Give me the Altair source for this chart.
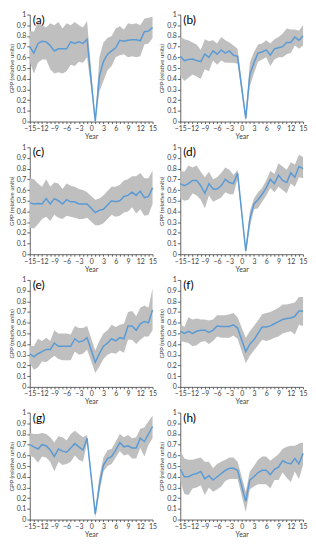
import altair as alt
import pandas as pd

years = [y for y in range(-15, 16) if y != 0]
panels = ["(a)", "(b)", "(c)", "(d)", "(e)", "(f)", "(g)", "(h)"]

mean_a = [0.70,0.64,0.73,0.75,0.745,0.71,0.66,0.68,0.68,0.68,0.745,0.73,0.745,0.73,0.77,
          0.0,0.42,0.56,0.63,0.66,0.69,0.76,0.75,0.76,0.765,0.765,0.755,0.84,0.845,0.88]
hi_a = [0.85,0.84,0.93,0.90,0.88,0.92,0.90,0.93,0.87,0.92,0.90,0.93,0.90,0.88,0.94,
        0.02,0.60,0.74,0.78,0.80,0.87,0.89,0.86,0.92,0.91,0.92,0.90,0.96,0.97,0.98]
lo_a = [0.56,0.45,0.55,0.58,0.58,0.49,0.45,0.46,0.45,0.47,0.53,0.52,0.56,0.55,0.60,
        0.0,0.28,0.38,0.48,0.52,0.60,0.62,0.63,0.60,0.61,0.60,0.61,0.72,0.73,0.78]

mean_b = [0.61,0.57,0.58,0.585,0.57,0.56,0.63,0.60,0.66,0.63,0.67,0.64,0.66,0.62,0.61,
          0.03,0.44,0.55,0.64,0.65,0.67,0.62,0.68,0.69,0.70,0.74,0.74,0.79,0.76,0.80]
hi_b = [0.79,0.77,0.76,0.74,0.72,0.67,0.77,0.75,0.76,0.73,0.79,0.76,0.74,0.71,0.68,
        0.06,0.55,0.65,0.72,0.73,0.76,0.73,0.77,0.79,0.82,0.87,0.86,0.86,0.85,0.90]
lo_b = [0.43,0.38,0.41,0.44,0.42,0.40,0.49,0.47,0.57,0.53,0.57,0.55,0.55,0.55,0.54,
        0.0,0.33,0.45,0.56,0.58,0.60,0.52,0.58,0.60,0.60,0.63,0.64,0.71,0.68,0.71]

mean_c = [0.48,0.47,0.475,0.47,0.52,0.47,0.52,0.50,0.47,0.51,0.49,0.49,0.47,0.47,0.47,
          0.39,0.41,0.42,0.46,0.50,0.49,0.50,0.54,0.55,0.58,0.55,0.59,0.53,0.54,0.62]
hi_c = [0.71,0.70,0.66,0.63,0.70,0.63,0.67,0.66,0.61,0.66,0.64,0.63,0.61,0.60,0.58,
        0.51,0.52,0.55,0.59,0.63,0.63,0.65,0.69,0.70,0.73,0.73,0.76,0.71,0.71,0.78]
lo_c = [0.25,0.24,0.28,0.33,0.35,0.31,0.37,0.34,0.33,0.36,0.35,0.34,0.33,0.33,0.34,
        0.27,0.27,0.29,0.33,0.37,0.35,0.36,0.39,0.40,0.44,0.38,0.42,0.36,0.37,0.47]

mean_d = [0.66,0.64,0.66,0.69,0.69,0.64,0.57,0.66,0.61,0.61,0.64,0.70,0.67,0.66,0.76,
          0.03,0.33,0.47,0.51,0.56,0.62,0.70,0.66,0.74,0.69,0.67,0.76,0.72,0.82,0.80]
hi_d = [0.78,0.77,0.83,0.81,0.83,0.77,0.72,0.77,0.70,0.72,0.76,0.81,0.79,0.74,0.79,
        0.05,0.40,0.52,0.58,0.62,0.69,0.78,0.75,0.85,0.82,0.79,0.86,0.84,0.93,0.91]
lo_d = [0.52,0.50,0.51,0.57,0.55,0.51,0.43,0.55,0.49,0.51,0.53,0.58,0.56,0.56,0.70,
        0.0,0.25,0.42,0.43,0.49,0.55,0.62,0.58,0.63,0.60,0.57,0.66,0.63,0.72,0.71]

mean_e = [0.31,0.28,0.31,0.33,0.35,0.35,0.41,0.38,0.38,0.38,0.38,0.45,0.42,0.43,0.46,
          0.23,0.31,0.38,0.41,0.45,0.43,0.46,0.45,0.57,0.57,0.53,0.59,0.61,0.60,0.72]
hi_e = [0.39,0.38,0.45,0.43,0.46,0.43,0.53,0.50,0.50,0.50,0.49,0.57,0.55,0.55,0.57,
        0.34,0.43,0.50,0.53,0.58,0.56,0.58,0.59,0.70,0.71,0.66,0.74,0.76,0.74,0.92]
lo_e = [0.22,0.16,0.18,0.24,0.23,0.26,0.29,0.26,0.25,0.25,0.25,0.33,0.30,0.31,0.35,
        0.13,0.19,0.26,0.30,0.32,0.31,0.34,0.32,0.44,0.44,0.40,0.44,0.47,0.47,0.53]

mean_f = [0.52,0.50,0.52,0.50,0.52,0.53,0.53,0.51,0.53,0.57,0.565,0.565,0.565,0.58,0.55,
          0.33,0.40,0.44,0.50,0.56,0.56,0.57,0.59,0.61,0.63,0.64,0.645,0.66,0.71,0.71]
hi_f = [0.59,0.56,0.65,0.63,0.64,0.63,0.63,0.62,0.63,0.67,0.67,0.67,0.68,0.69,0.65,
        0.46,0.52,0.57,0.62,0.68,0.69,0.70,0.72,0.74,0.77,0.77,0.78,0.79,0.84,0.84]
lo_f = [0.43,0.42,0.41,0.38,0.39,0.42,0.43,0.40,0.43,0.47,0.46,0.46,0.46,0.48,0.45,
        0.22,0.29,0.34,0.39,0.44,0.43,0.44,0.46,0.47,0.50,0.51,0.52,0.49,0.58,0.57]

mean_g = [0.70,0.68,0.66,0.70,0.69,0.65,0.59,0.66,0.64,0.63,0.67,0.71,0.68,0.65,0.76,
          0.05,0.32,0.51,0.57,0.59,0.65,0.72,0.68,0.69,0.67,0.67,0.76,0.73,0.80,0.87]
hi_g = [0.81,0.80,0.80,0.81,0.80,0.77,0.72,0.78,0.77,0.74,0.80,0.83,0.80,0.77,0.79,
        0.07,0.40,0.58,0.65,0.66,0.73,0.80,0.77,0.79,0.76,0.77,0.85,0.86,0.92,0.97]
lo_g = [0.60,0.58,0.53,0.59,0.58,0.54,0.45,0.54,0.51,0.52,0.54,0.60,0.56,0.54,0.72,
        0.02,0.25,0.45,0.50,0.52,0.58,0.64,0.60,0.61,0.57,0.57,0.67,0.59,0.70,0.76]

mean_h = [0.47,0.40,0.40,0.42,0.43,0.45,0.38,0.41,0.37,0.40,0.43,0.46,0.48,0.48,0.46,
          0.17,0.37,0.40,0.44,0.46,0.46,0.42,0.47,0.49,0.55,0.53,0.52,0.57,0.52,0.62]
hi_h = [0.64,0.57,0.56,0.56,0.57,0.58,0.54,0.54,0.48,0.52,0.54,0.56,0.58,0.58,0.54,
        0.26,0.45,0.50,0.56,0.59,0.59,0.55,0.58,0.61,0.66,0.68,0.69,0.69,0.71,0.72]
lo_h = [0.36,0.24,0.23,0.29,0.30,0.32,0.23,0.30,0.26,0.28,0.31,0.36,0.38,0.38,0.38,
        0.07,0.28,0.31,0.33,0.33,0.33,0.29,0.37,0.37,0.44,0.39,0.35,0.45,0.38,0.51]

series = {
    "(a)": (mean_a, lo_a, hi_a), "(b)": (mean_b, lo_b, hi_b),
    "(c)": (mean_c, lo_c, hi_c), "(d)": (mean_d, lo_d, hi_d),
    "(e)": (mean_e, lo_e, hi_e), "(f)": (mean_f, lo_f, hi_f),
    "(g)": (mean_g, lo_g, hi_g), "(h)": (mean_h, lo_h, hi_h),
}

y_ticks = [0, 0.1, 0.2, 0.3, 0.4, 0.5, 0.6, 0.7, 0.8, 0.9, 1]
x_ticks = list(range(-15, 16))

FONT = "Lato"
W, H = 124, 108

x_axis = alt.Axis(values=x_ticks, format="d",
                  labelExpr="datum.value % 3 == 0 ? datum.label : ''",
                  title="Year", tickSize=2, labelPadding=1,
                  titlePadding=1, labelFlush=False, labelOverlap=False)
y_axis = alt.Axis(values=y_ticks, format=".1~f",
                  title="GPP (relative units)", tickSize=3,
                  labelPadding=1, titlePadding=2,
                  labelOverlap=False, labelFlush=False)
x_scale = alt.Scale(domain=[-15, 15], nice=False)
y_scale = alt.Scale(domain=[0, 1], nice=False)

def panel(name):
    m, lo, hi = series[name]
    df = pd.DataFrame({"Year": years, "mean": m, "lo": lo, "hi": hi})
    base = alt.Chart(df)
    band = base.mark_area(color="#bfbfbf", opacity=1).encode(
        x=alt.X("Year:Q", scale=x_scale, axis=x_axis),
        y=alt.Y("lo:Q", scale=y_scale, axis=y_axis),
        y2="hi:Q",
    )
    line = base.mark_line(color="#5b9bd5", strokeWidth=1.5).encode(
        x=alt.X("Year:Q", scale=x_scale, axis=x_axis),
        y=alt.Y("mean:Q", scale=y_scale, axis=y_axis))
    lab = alt.Chart(pd.DataFrame({"t": [name]})).mark_text(
        align="left", baseline="top", fontSize=12, font=FONT, color="#000"
    ).encode(text="t:N", x=alt.value(3), y=alt.value(0))
    return alt.layer(band, line, lab).properties(width=W, height=H)

chart = alt.concat(*[panel(p) for p in panels], columns=2,
                   spacing={"row": 26, "column": 28}, bounds="flush").properties(
    padding=0
).configure_view(strokeWidth=0).configure_axis(
    labelFont=FONT, titleFont=FONT, labelFontSize=7, titleFontSize=6,
    titleFontWeight="normal", labelColor="#404040", titleColor="#404040",
    domainColor="#404040", tickColor="#404040", grid=False, domainWidth=0.8,
    tickWidth=0.8, labelOverlap=False
).configure_axisX(titleFontSize=7)

chart.save("out.html", embed_options={"renderer": "svg", "actions": False})
